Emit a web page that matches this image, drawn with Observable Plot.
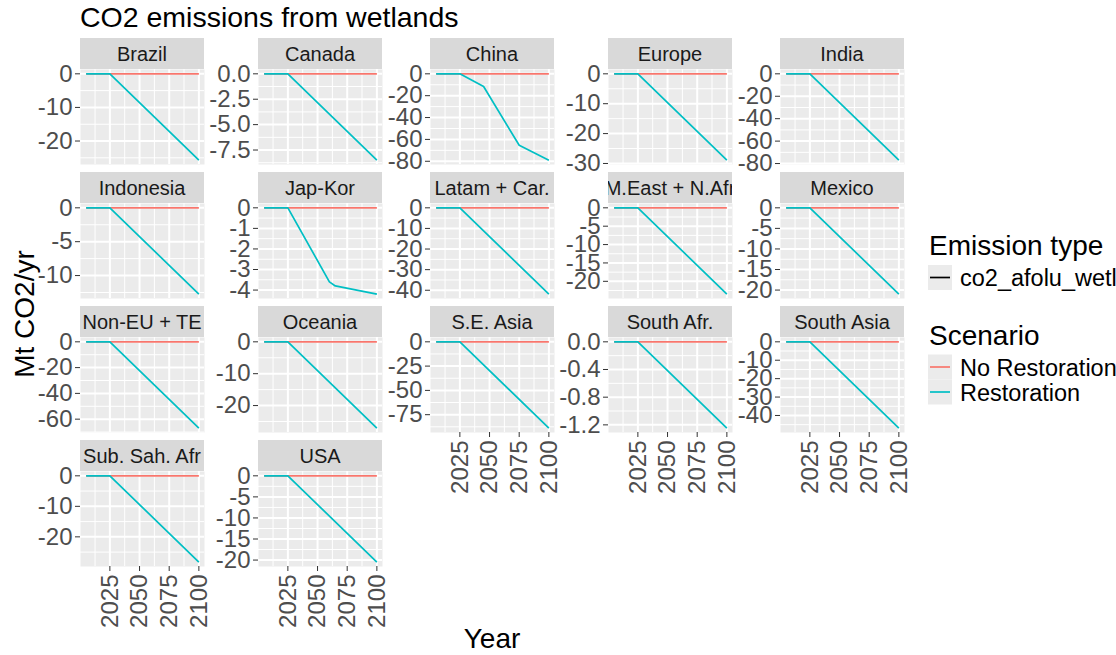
<!DOCTYPE html>
<html><head><meta charset="utf-8">
<script src="https://cdn.jsdelivr.net/npm/d3@7"></script>
<script src="https://cdn.jsdelivr.net/npm/@observablehq/plot@0.6"></script>
<style>
html,body{margin:0;padding:0;background:#fff;}
#chart{position:relative;width:1116px;height:655px;overflow:hidden;background:#fff;font-family:"Liberation Sans",Arial,sans-serif;}
#chart svg{position:absolute;}
</style></head><body><div id="chart"></div>
<script>
// ---- data ----
const regions = ["Brazil","Canada","China","Europe","India","Indonesia","Jap-Kor","Latam + Car.","M.East + N.Afr","Mexico","Non-EU + TE","Oceania","S.E. Asia","South Afr.","South Asia","Sub. Sah. Afr","USA"];
const restorationYears = [
  [2005,2025,2100],[2005,2025,2100],[2005,2025,2045,2075,2100],[2005,2025,2100],[2005,2025,2100],
  [2005,2025,2100],[2005,2025,2060,2065,2100],[2005,2025,2100],[2005,2025,2100],[2005,2025,2100],
  [2005,2025,2100],[2005,2025,2100],[2005,2025,2100],[2005,2025,2100],[2005,2025,2100],
  [2005,2025,2100],[2005,2025,2100]
];
const restorationValues = [
  [0,0,-25.7],[0,0,-8.5],[0,0,-11.6,-65.4,-79],[0,0,-28.9],[0,0,-77],
  [0,0,-12.75],[0,0,-3.6,-3.8,-4.2],[0,0,-41.9],[0,0,-23.5],[0,0,-21],
  [0,0,-67],[0,0,-27.1],[0,0,-88.9],[0,0,-1.248],[0,0,-46.9],
  [0,0,-28.3],[0,0,-20.5]
];
const noRestorationYears = [2005, 2100];
const noRestorationValues = [0, 0];
const yTicks = [
  [0,-10,-20],[0,-2.5,-5,-7.5],[0,-20,-40,-60,-80],[0,-10,-20,-30],[0,-20,-40,-60,-80],
  [0,-5,-10],[0,-1,-2,-3,-4],[0,-10,-20,-30,-40],[0,-5,-10,-15,-20],[0,-5,-10,-15,-20],
  [0,-20,-40,-60],[0,-10,-20],[0,-25,-50,-75],[0,-0.4,-0.8,-1.2],[0,-10,-20,-30,-40],
  [0,-10,-20],[0,-5,-10,-15,-20]
];
const xTicks = [2025, 2050, 2075, 2100];
const scenarios = ["No Restoration", "Restoration"];
const scenarioColors = ["#F8766D", "#00BFC4"];
const emissionTypes = ["co2_afolu_wetland"];

// ---- layout ----
const FONT = '"Liberation Sans", Arial, sans-serif';
const colLeft = [80, 258, 430, 608, 780];
const rowTop = [38, 172, 306, 440];
const PW = 124, SH = 31, PH = 95, ML = 60, MB = 72;
const chart = document.getElementById("chart");

const xExt = [d3.min(restorationYears.flat()), d3.max(restorationYears.flat())];
const xPad = 0.05 * (xExt[1] - xExt[0]);
const xDomain = [xExt[0] - xPad, xExt[1] + xPad];
const xStep = xTicks[1] - xTicks[0];
const xMinor = [xTicks[0] - xStep, ...xTicks].map(t => t + xStep / 2).filter(t => t > xDomain[0] && t < xDomain[1]);

regions.forEach((name, i) => {
  const col = i % 5, row = Math.floor(i / 5);
  const bottom = i + 5 >= regions.length;
  const rest = restorationYears[i].map((y, k) => ({year: y, value: restorationValues[i][k]}));
  const noRest = noRestorationYears.map((y, k) => ({year: y, value: noRestorationValues[k]}));
  const all = rest.concat(noRest).map(d => d.value);
  const lo = d3.min(all), hi = d3.max(all);
  const pad = 0.05 * (hi - lo);
  const yDomain = [lo - pad, hi + pad];
  const ticks = yTicks[i];
  const step = Math.abs(ticks[0] - ticks[1]);
  const minorY = [];
  ticks.forEach(t => { minorY.push(t - step / 2, t + step / 2); });
  const minorYs = Array.from(new Set(minorY.map(v => +v.toFixed(6)))).filter(v => v > yDomain[0] && v < yDomain[1] && !ticks.includes(v));
  const dec = ticks.some(t => !Number.isInteger(t)) ? 1 : 0;
  const fmt = v => (v < 0 ? "-" : "") + Math.abs(v).toFixed(dec);

  const svg = Plot.plot({
    width: ML + PW,
    height: PH + (bottom ? MB : 0),
    marginLeft: ML, marginRight: 0, marginTop: 0, marginBottom: bottom ? MB : 0,
    x: {domain: xDomain, axis: null},
    y: {domain: yDomain, axis: null},
    style: {background: "transparent", overflow: "visible", fontFamily: FONT, color: "#4D4D4D"},
    marks: [
      Plot.frame({fill: "#EBEBEB", stroke: "none"}),
      Plot.gridY(minorYs, {stroke: "white", strokeOpacity: 1, strokeWidth: 1}),
      Plot.gridX(xMinor, {stroke: "white", strokeOpacity: 1, strokeWidth: 1}),
      Plot.gridY(ticks, {stroke: "white", strokeOpacity: 1, strokeWidth: 2}),
      Plot.gridX(xTicks, {stroke: "white", strokeOpacity: 1, strokeWidth: 2}),
      Plot.line(noRest, {x: "year", y: "value", stroke: scenarioColors[0], strokeWidth: 1.7, strokeLinecap: "butt"}),
      Plot.line(rest, {x: "year", y: "value", stroke: scenarioColors[1], strokeWidth: 1.7, strokeLinecap: "butt"}),
      Plot.axisY(ticks, {tickFormat: fmt, tickSize: 5, tickPadding: 3, fontSize: 24, stroke: "#333333", fill: "#4D4D4D", label: null}),
      bottom ? Plot.axisX(xTicks, {tickFormat: d => String(d), tickSize: 5, tickPadding: 3, tickRotate: -90, fontSize: 24, stroke: "#333333", fill: "#4D4D4D", label: null}) : null
    ]
  });
  svg.style.position = "absolute";
  svg.style.left = (colLeft[col] - ML) + "px";
  svg.style.top = (rowTop[row] + SH) + "px";
  chart.appendChild(svg);
});

// ---- overlay: strips, titles, legend ----
const ns = "http://www.w3.org/2000/svg";
const ov = document.createElementNS(ns, "svg");
ov.setAttribute("width", 1116); ov.setAttribute("height", 655);
ov.style.left = "0px"; ov.style.top = "0px"; ov.style.fontFamily = FONT;
chart.appendChild(ov);
function el(tag, attrs, parent, text) {
  const e = document.createElementNS(ns, tag);
  for (const k in attrs) e.setAttribute(k, attrs[k]);
  if (text != null) e.textContent = text;
  (parent || ov).appendChild(e);
  return e;
}
const defs = el("defs", {});
regions.forEach((name, i) => {
  const col = i % 5, row = Math.floor(i / 5);
  const x = colLeft[col], y = rowTop[row];
  const cp = el("clipPath", {id: "clip" + i}, defs);
  el("rect", {x, y, width: PW, height: SH}, cp);
  el("rect", {x, y, width: PW, height: SH, fill: "#D9D9D9"});
  el("text", {x: x + PW / 2, y: y + 23, "text-anchor": "middle", "font-size": 20, fill: "#1A1A1A", "clip-path": `url(#clip${i})`}, null, name);
});
el("text", {x: 80, y: 27, "font-size": 28.5, fill: "#000"}, null, "CO2 emissions from wetlands");
el("text", {x: 492, y: 648, "text-anchor": "middle", "font-size": 28, fill: "#000"}, null, "Year");
el("text", {x: 0, y: 0, "text-anchor": "middle", "font-size": 28, fill: "#000", transform: "translate(34,314) rotate(-90)"}, null, "Mt CO2/yr");
// legend: emission type
el("text", {x: 929, y: 255, "font-size": 28, fill: "#000"}, null, "Emission type");
el("rect", {x: 928, y: 265, width: 24, height: 25, fill: "#EBEBEB"});
el("line", {x1: 930, x2: 950, y1: 277.5, y2: 277.5, stroke: "#000", "stroke-width": 1.7});
el("text", {x: 960, y: 286, "font-size": 23.5, fill: "#000"}, null, emissionTypes[0]);
// legend: scenario
el("text", {x: 929, y: 345, "font-size": 28, fill: "#000"}, null, "Scenario");
scenarios.forEach((s, k) => {
  const cy = 367 + k * 25;
  el("rect", {x: 928, y: cy - 12.5, width: 24, height: 25, fill: "#EBEBEB"});
  el("line", {x1: 930, x2: 950, y1: cy, y2: cy, stroke: scenarioColors[k], "stroke-width": 1.7});
  el("text", {x: 960, y: cy + 8.5, "font-size": 23.5, fill: "#000"}, null, s);
});
</script>
</body></html>
